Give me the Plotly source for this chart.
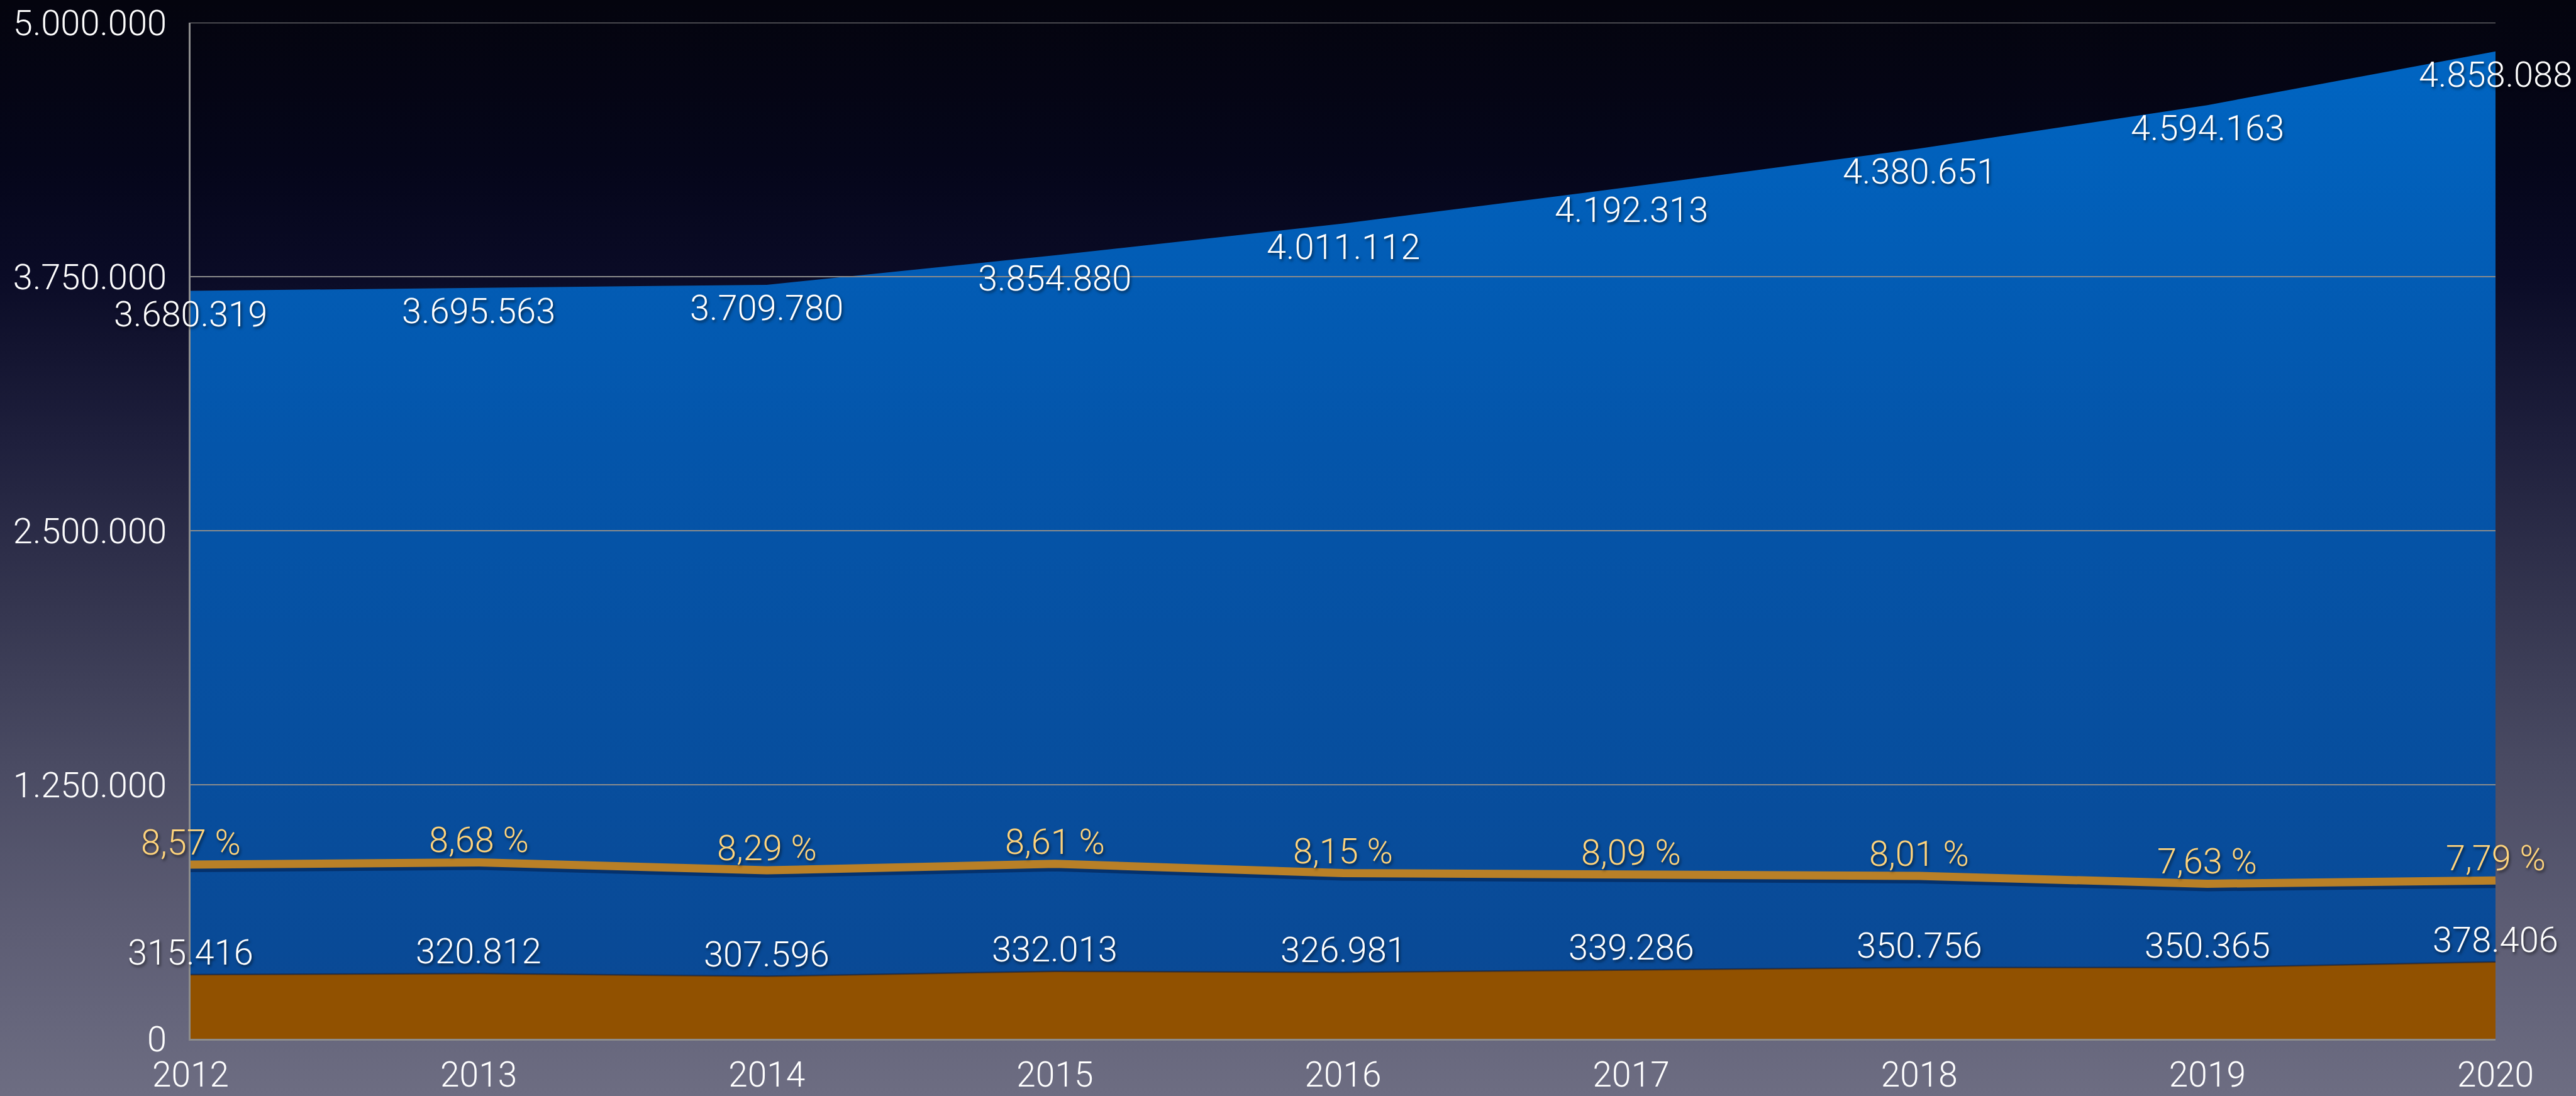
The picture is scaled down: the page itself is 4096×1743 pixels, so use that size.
import base64
import plotly.graph_objects as go

# ---- data -------------------------------------------------------------
years = [2012, 2013, 2014, 2015, 2016, 2017, 2018, 2019, 2020]
total_values = [3680319, 3695563, 3709780, 3854880, 4011112,
                4192313, 4380651, 4594163, 4858088]
regional_values = [315416, 320812, 307596, 332013, 326981,
                   339286, 350756, 350365, 378406]
share_pct = [8.57, 8.68, 8.29, 8.61, 8.15, 8.09, 8.01, 7.63, 7.79]

y_ticks = [0, 1250000, 2500000, 3750000, 5000000]
y_tick_labels = ["0", "1.250.000", "2.500.000", "3.750.000", "5.000.000"]
pct_axis_max = 50

# ---- page geometry ----------------------------------------------------
W, H = 4096, 1743
M_L, M_R, M_T, M_B = 303, 128, 36, 91
PW, PH = W - M_L - M_R, H - M_T - M_B

FONT = "Roboto, 'Helvetica Neue', Arial, sans-serif"
FS = 56
SHADOW = "2px 3px 4px rgba(0,0,0,0.55)"


def fmt_int(v):
    return f"{v:,}".replace(",", ".")


def fmt_pct(p):
    return f"{p:.2f} %".replace(".", ",")


# vertical background gradient (dark navy at the top to slate grey at the bottom)
bg_stops = [(0.00, "#04040e"), (0.15, "#05061a"), (0.25, "#0a0b26"),
            (0.40, "#1e1f3c"), (0.55, "#34354f"), (0.70, "#4a4b63"),
            (0.85, "#5d5d74"), (1.00, "#6d6d82")]
stops_svg = "".join(f'<stop offset="{o}" stop-color="{c}"/>' for o, c in bg_stops)
bg_svg = (
    '<svg xmlns="http://www.w3.org/2000/svg" width="100" height="100" '
    'viewBox="0 0 100 100" preserveAspectRatio="none">'
    f'<defs><linearGradient id="g" x1="0" y1="0" x2="0" y2="1">{stops_svg}'
    '</linearGradient></defs><rect width="100" height="100" fill="url(#g)"/></svg>'
)
bg_uri = "data:image/svg+xml;base64," + base64.b64encode(bg_svg.encode()).decode()

fig = go.Figure()

# total (blue area with vertical gradient)
fig.add_trace(go.Scatter(
    x=years, y=total_values, mode="lines", fill="tozeroy",
    line=dict(width=0, color="#0064C0"),
    fillgradient=dict(type="vertical", start=0, stop=max(total_values),
                      colorscale=[[0, "#0A4893"], [0.6, "#0455AA"], [1, "#0065C2"]]),
    hoverinfo="skip", showlegend=False,
))

# regional part (brown area)
fig.add_trace(go.Scatter(
    x=years, y=regional_values, mode="lines", fill="tozeroy",
    fillcolor="#915100", line=dict(width=2.5, color="rgba(20,25,50,0.55)"),
    hoverinfo="skip", showlegend=False,
))

# share line: soft shadow on a slightly offset axis (drawn first), then the line
fig.add_trace(go.Scatter(
    x=years, y=share_pct, mode="lines", yaxis="y2",
    line=dict(width=14, color="rgba(0,10,40,0.40)"),
    hoverinfo="skip", showlegend=False,
))
fig.add_trace(go.Scatter(
    x=years, y=share_pct, mode="lines", yaxis="y3",
    line=dict(width=13, color="#B98027"),
    hoverinfo="skip", showlegend=False,
))

# value labels
annotations = []
label_font = dict(family=FONT, size=FS, color="#FFFFFF", weight=300, shadow=SHADOW)
pct_font = dict(family=FONT, size=FS, color="#FFD47C", weight=300, shadow=SHADOW)
for yr, tv, rv, pv in zip(years, total_values, regional_values, share_pct):
    annotations.append(dict(x=yr, y=tv, xref="x", yref="y", text=fmt_int(tv),
                            showarrow=False, xanchor="center", yanchor="middle",
                            yshift=-37, font=label_font))
    annotations.append(dict(x=yr, y=rv, xref="x", yref="y", text=fmt_int(rv),
                            showarrow=False, xanchor="center", yanchor="middle",
                            yshift=35, font=label_font))
    annotations.append(dict(x=yr, y=pv, xref="x", yref="y3", text=fmt_pct(pv),
                            showarrow=False, xanchor="center", yanchor="middle",
                            yshift=35, font=pct_font))

# horizontal grid lines, drawn over the areas
shapes = [dict(type="line", xref="paper", x0=0, x1=1, yref="y", y0=v, y1=v,
               line=dict(color="#8C8C8C", width=2.2), layer="above")
          for v in y_ticks[1:]]

shadow_shift = 5 / PH * pct_axis_max

fig.update_layout(
    width=W, height=H,
    margin=dict(l=M_L, r=M_R, t=M_T, b=M_B, pad=0, autoexpand=False),
    paper_bgcolor="#6d6d82",
    plot_bgcolor="rgba(0,0,0,0)",
    images=[dict(source=bg_uri, xref="paper", yref="paper",
                 x=-M_L / PW, y=1 + M_T / PH, sizex=W / PW, sizey=H / PH,
                 xanchor="left", yanchor="top", sizing="stretch", layer="below")],
    xaxis=dict(range=[years[0], years[-1]], tickvals=years, automargin=False,
               ticktext=[str(y) for y in years], showgrid=False, zeroline=False,
               showline=True, linecolor="#8C8C8C", linewidth=2.5, ticks="",
               ticklabelstandoff=7,
               tickfont=dict(family=FONT, size=55, color="#FFFFFF", weight=300)),
    yaxis=dict(range=[0, y_ticks[-1]], tickvals=y_ticks, ticktext=y_tick_labels,
               automargin=False,
               showgrid=False, zeroline=False, showline=True, linecolor="#8C8C8C",
               linewidth=2.5, ticks="", ticklabelstandoff=24,
               tickfont=dict(family=FONT, size=FS, color="#FFFFFF", weight=300)),
    yaxis2=dict(range=[shadow_shift, pct_axis_max + shadow_shift],
                overlaying="y", visible=False),
    yaxis3=dict(range=[0, pct_axis_max], overlaying="y", visible=False),
    annotations=annotations,
    shapes=shapes,
    showlegend=False,
)

fig.write_html("out.html")
